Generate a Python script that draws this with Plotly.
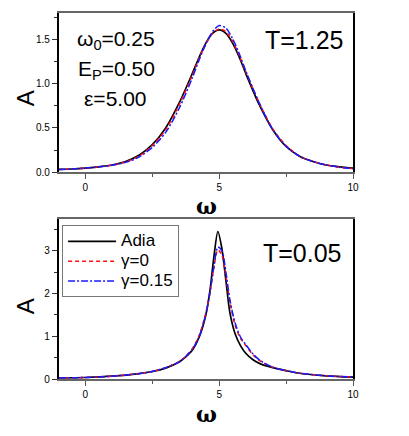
import plotly.graph_objects as go

# ---- data ----
w_top = [-1, -0.5, 0, 0.5, 1, 1.5, 2, 2.5, 3, 3.5, 4, 4.25, 4.5, 4.75, 5, 5.25, 5.5, 5.75, 6, 6.5, 7, 7.5, 8, 8.5, 9, 9.5, 10]
adia_top = [0.03, 0.035, 0.045, 0.06, 0.08, 0.12, 0.19, 0.31, 0.50, 0.78, 1.12, 1.30, 1.46, 1.57, 1.61, 1.57, 1.46, 1.30, 1.11, 0.76, 0.48, 0.29, 0.18, 0.12, 0.08, 0.06, 0.045]
g0_top = [0.03, 0.035, 0.045, 0.06, 0.08, 0.115, 0.18, 0.30, 0.48, 0.76, 1.10, 1.29, 1.45, 1.57, 1.62, 1.59, 1.48, 1.32, 1.13, 0.78, 0.49, 0.30, 0.18, 0.12, 0.08, 0.055, 0.04]
g15_top = [0.03, 0.035, 0.045, 0.06, 0.078, 0.11, 0.17, 0.28, 0.45, 0.72, 1.07, 1.27, 1.45, 1.59, 1.66, 1.63, 1.51, 1.34, 1.14, 0.78, 0.48, 0.29, 0.18, 0.12, 0.08, 0.055, 0.04]

w_bot = [-1, 0, 1, 2, 2.5, 3, 3.5, 3.75, 4, 4.25, 4.5, 4.65, 4.8, 4.95, 5.1, 5.25, 5.4, 5.6, 5.8, 6, 6.25, 6.5, 7, 7.5, 8, 9, 10]
adia_bot = [0.03, 0.04, 0.07, 0.13, 0.18, 0.26, 0.40, 0.52, 0.68, 0.98, 1.50, 2.05, 2.85, 3.45, 3.05, 2.30, 1.55, 1.05, 0.78, 0.60, 0.46, 0.37, 0.27, 0.20, 0.14, 0.08, 0.05]
g0_bot = [0.03, 0.04, 0.07, 0.13, 0.18, 0.27, 0.41, 0.54, 0.72, 1.02, 1.55, 2.02, 2.60, 3.02, 2.90, 2.40, 1.80, 1.25, 0.95, 0.78, 0.58, 0.44, 0.28, 0.20, 0.14, 0.08, 0.05]
g15_bot = [0.03, 0.04, 0.07, 0.13, 0.18, 0.27, 0.40, 0.53, 0.70, 1.00, 1.52, 2.00, 2.62, 3.08, 3.00, 2.50, 1.85, 1.30, 0.98, 0.80, 0.60, 0.45, 0.28, 0.20, 0.14, 0.08, 0.05]

series_names = ["Adia", "γ=0", "γ=0.15"]
x_ticks = [0, 5, 10]

W, H = 409, 436
fig = go.Figure()

styles = [
    dict(color="black", width=1.7, dash="solid"),
    dict(color="#ff1010", width=1.5, dash="4px,3px"),
    dict(color="#1a1aff", width=1.5, dash="7px,2px,2px,2px"),
]

for i, (ys, name) in enumerate(zip([adia_top, g0_top, g15_top], series_names)):
    fig.add_trace(go.Scatter(x=w_top, y=ys, mode="lines", name=name, showlegend=False,
                             line=dict(shape="spline", smoothing=0.8, **styles[i]),
                             xaxis="x", yaxis="y"))
for i, (ys, name) in enumerate(zip([adia_bot, g0_bot, g15_bot], series_names)):
    fig.add_trace(go.Scatter(x=w_bot, y=ys, mode="lines",
                             name='<span style="font-size:17px">' + name + "</span>",
                             showlegend=True,
                             line=dict(shape="spline", smoothing=0.8, **styles[i]),
                             xaxis="x2", yaxis="y2"))

xd = [59.5 / W, 358.3 / W]
top_dom = [1 - 174.5 / H, 1 - 13.3 / H]
bot_dom = [1 - 384.5 / H, 1 - 221.7 / H]

common_x = dict(range=[-1, 10], tickvals=x_ticks, ticks="outside", ticklen=5, tickwidth=1,
                minor=dict(ticks="outside", ticklen=3, dtick=2.5, tickcolor="#555"),
                showline=True, linecolor="#666", linewidth=1.5, mirror=True,
                showgrid=False, zeroline=False, tickcolor="#555",
                tickfont=dict(family="Arial, Liberation Sans", size=10, color="black"))
common_y = dict(ticks="outside", ticklen=5, tickwidth=1, tickcolor="#333",
                showline=True, linecolor="black", linewidth=1.5, mirror=True,
                showgrid=False, zeroline=False,
                tickfont=dict(family="Arial, Liberation Sans", size=10, color="black"))

fig.update_layout(
    width=W, height=H,
    margin=dict(l=0, r=0, t=0, b=0),
    plot_bgcolor="white", paper_bgcolor="white",
    xaxis=dict(domain=xd, anchor="y", **common_x),
    yaxis=dict(domain=top_dom, anchor="x", range=[0, 1.8], tickvals=[0, 0.5, 1.0, 1.5],
               ticktext=["0.0", "0.5", "1.0", "1.5"],
               minor=dict(ticks="outside", ticklen=3, dtick=0.25, tickcolor="#333"), **common_y),
    xaxis2=dict(domain=xd, anchor="y2", **common_x),
    yaxis2=dict(domain=bot_dom, anchor="x2", range=[0, 3.75], tickvals=[0, 1, 2, 3],
                minor=dict(ticks="outside", ticklen=3, dtick=0.5, tickcolor="#333"), **common_y),
    legend=dict(x=63 / W, y=1 - 228.5 / H, xanchor="left", yanchor="top",
                bgcolor="white", bordercolor="#777", borderwidth=1,
                font=dict(family="Arial, Liberation Sans", size=13, color="black"),
                tracegroupgap=0, itemwidth=48, entrywidth=121),
    showlegend=True,
)

ann_font = dict(family="Arial, Liberation Sans", color="black")
anns = [
    dict(text="A", x=26 / W, y=1 - 100 / H, textangle=-90, font=dict(size=24, **ann_font)),
    dict(text="A", x=26 / W, y=1 - 311 / H, textangle=-90, font=dict(size=24, **ann_font)),
    dict(text="<b>ω</b>", x=210 / W, y=1 - 209 / H, font=dict(size=22, family="DejaVu Serif", color="black")),
    dict(text="<b>ω</b>", x=210 / W, y=1 - 420 / H, font=dict(size=22, family="DejaVu Serif", color="black")),
    dict(text="ω<sub>0</sub>=0.25", x=118 / W, y=1 - 41 / H, font=dict(size=21, **ann_font)),
    dict(text="E<sub>P</sub>=0.50", x=118 / W, y=1 - 71 / H, font=dict(size=21, **ann_font)),
    dict(text="ε=5.00", x=117 / W, y=1 - 100 / H, font=dict(size=21, **ann_font)),
    dict(text="T=1.25", x=309 / W, y=1 - 41 / H, font=dict(size=25, **ann_font)),
    dict(text="T=0.05", x=307 / W, y=1 - 257 / H, font=dict(size=25, **ann_font)),
]
for a in anns:
    fig.add_annotation(xref="paper", yref="paper", showarrow=False, xanchor="center", yanchor="middle", **a)

fig.write_html("out.html", config={"displayModeBar": False},
               post_script="document.body.style.margin='0';")
